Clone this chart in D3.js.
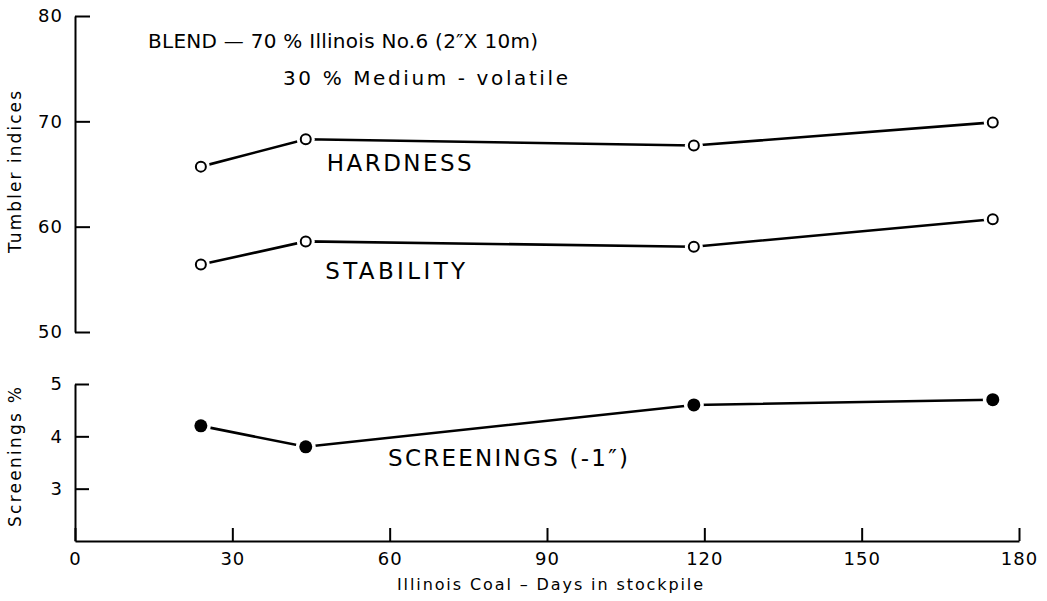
<!DOCTYPE html>
<html>
<head>
<meta charset="utf-8">
<script src="https://cdn.jsdelivr.net/npm/d3@7"></script>
<style>
  body { margin: 0; background: #fff; }
  text { font-family: "DejaVu Sans", sans-serif; fill: #000; }
</style>
</head>
<body>
<script>
// values
const days = [24, 44, 118, 175];
const hardness = [65.7, 68.3, 67.7, 69.9];
const stability = [56.4, 58.6, 58.1, 60.7];
const screenings = [4.2, 3.8, 4.6, 4.7];

const xTicks = [0, 30, 60, 90, 120, 150, 180];
const upperTicks = [50, 60, 70, 80];
const lowerTicks = [3, 4, 5];

const svg = d3.select('body')
              .append('svg')
              .attr('width', 1047)
              .attr('height', 601);

const xscale = d3.scaleLinear().domain([0, 180]).range([75, 1019]);
const yUpper = d3.scaleLinear().domain([50, 80]).range([332, 16]);
const yLower = d3.scaleLinear().domain([2, 5]).range([541, 384]);

// axes
const styleAxis = g => {
  g.select('.domain').attr('stroke', '#000').attr('stroke-width', 2);
  g.selectAll('.tick line').attr('stroke', '#000').attr('stroke-width', 2);
  g.selectAll('.tick text')
    .attr('font-family', '"DejaVu Sans", sans-serif')
    .attr('font-size', 18)
    .attr('letter-spacing', 1)
    .attr('fill', '#000');
};

svg.append('g')
  .attr('transform', 'translate(75,0)')
  .call(d3.axisLeft(yUpper).tickValues(upperTicks).tickFormat(d3.format('d'))
          .tickSize(-15).tickSizeOuter(0).tickPadding(12))
  .call(styleAxis);

svg.append('g')
  .attr('transform', 'translate(75,0)')
  .call(d3.axisLeft(yLower).tickValues(lowerTicks).tickFormat(d3.format('d'))
          .tickSize(-14).tickSizeOuter(0).tickPadding(12))
  .call(styleAxis);

svg.append('g')
  .attr('transform', 'translate(0,541)')
  .call(d3.axisBottom(xscale).tickValues(xTicks).tickFormat(d3.format('d'))
          .tickSize(-13).tickSizeOuter(0).tickPadding(11))
  .call(styleAxis);

// series
const series = [
  {vals: hardness, y: yUpper, filled: false},
  {vals: stability, y: yUpper, filled: false},
  {vals: screenings, y: yLower, filled: true}
];

const line = (y) => d3.line().x((d, i) => xscale(days[i])).y(d => y(d));

series.forEach(s => {
  svg.append('path')
    .datum(s.vals)
    .attr('d', line(s.y))
    .attr('fill', 'none')
    .attr('stroke', '#000')
    .attr('stroke-width', 2.6);

  // white halo gives the small gap between line and marker
  svg.selectAll(null)
    .data(s.vals)
    .enter().append('circle')
    .attr('cx', (d, i) => xscale(days[i]))
    .attr('cy', d => s.y(d))
    .attr('r', s.filled ? 10 : 9)
    .attr('fill', '#fff');

  svg.selectAll(null)
    .data(s.vals)
    .enter().append('circle')
    .attr('cx', (d, i) => xscale(days[i]))
    .attr('cy', d => s.y(d))
    .attr('r', s.filled ? 6.5 : 5)
    .attr('fill', s.filled ? '#000' : '#fff')
    .attr('stroke', '#000')
    .attr('stroke-width', s.filled ? 0 : 2);
});

// labels
const label = (txt, x, y, size, len) => svg.append('text')
  .attr('x', x).attr('y', y)
  .attr('font-size', size)
  .attr('textLength', len)
  .attr('lengthAdjust', 'spacing')
  .text(txt);

label('BLEND \u2014 70 % Illinois No.6 (2\u2033X 10m)', 148, 48, 20, 390);
label('30 % Medium - volatile', 283, 85, 20, 285);

label('HARDNESS', xscale(48), yUpper(65.3), 23, 145);
label('STABILITY', xscale(47.7), yUpper(55.0), 23, 140);
label('SCREENINGS (-1\u2033)', xscale(59.7), yLower(3.44), 23, 240);

label('Illinois  Coal \u2013 Days  in  stockpile', 397, 590, 16, 306);

svg.append('text')
  .attr('transform', 'translate(21,172) rotate(-90)')
  .attr('text-anchor', 'middle')
  .attr('font-size', 17)
  .attr('textLength', 162)
  .attr('lengthAdjust', 'spacing')
  .text('Tumbler  indices');

svg.append('text')
  .attr('transform', 'translate(21,457) rotate(-90)')
  .attr('text-anchor', 'middle')
  .attr('font-size', 17)
  .attr('textLength', 140)
  .attr('lengthAdjust', 'spacing')
  .text('Screenings  %');
</script>
</body>
</html>
